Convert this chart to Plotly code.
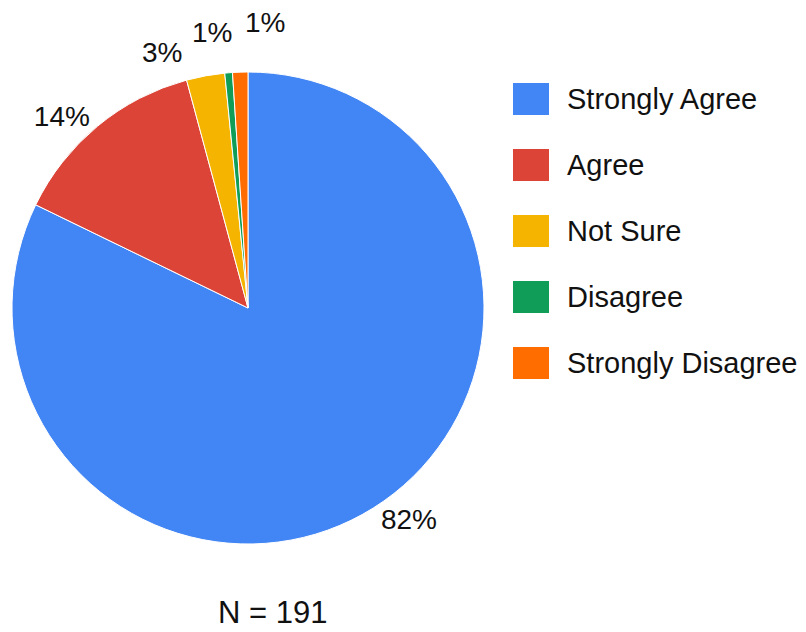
import math
import plotly.graph_objects as go

categories = ["Strongly Agree", "Agree", "Not Sure", "Disagree", "Strongly Disagree"]
counts = [157, 26, 5, 1, 2]
colors = ["#4285F4", "#DB4437", "#F4B400", "#0F9D58", "#FF6D00"]
note = "N = 191"

# the page body adds an 8px offset; the figure fills the rest of the 806x632 window
OFF = 8
W, H = 806 - OFF, 632 - OFF
FONT = "Liberation Sans, Arial, sans-serif"
TXT = "#111111"

# pie box in page pixels
PIE_L, PIE_R, PIE_T, PIE_B = 12, 484, 72, 544
CX, CY = (PIE_L + PIE_R) / 2, (PIE_T + PIE_B) / 2
RAD = (PIE_R - PIE_L) / 2


def px(x):
    return (x - OFF) / W


def py(y):
    return (H - (y - OFF)) / H


total = sum(counts)
shares = [c / total for c in counts]
small = [s < 0.05 for s in shares]

fig = go.Figure()
fig.add_trace(go.Pie(
    labels=categories,
    values=counts,
    marker=dict(colors=colors, line=dict(color="white", width=1)),
    sort=False,
    direction="clockwise",
    rotation=0,
    textposition=["none" if s else "outside" for s in small],
    texttemplate="%{percent:.0%}",
    textfont=dict(size=28, color=TXT, family=FONT),
    automargin=False,
    showlegend=False,
    hoverinfo="label+value+percent",
    domain=dict(x=[px(PIE_L), px(PIE_R)], y=[py(PIE_B), py(PIE_T)]),
))

annotations = []

# labels of the thin slices near the top: fanned out around the middle of their group
starts = [sum(shares[:i]) for i in range(len(shares))]
small_idx = [i for i, s in enumerate(small) if s]
g0 = starts[small_idx[0]]
g1 = starts[small_idx[-1]] + shares[small_idx[-1]]
g_mid = (g0 + g1) / 2 * 360
STEP = 11  # degrees between fanned labels
for k, i in enumerate(small_idx):
    ang = math.radians(g_mid + (k - (len(small_idx) - 1) / 2) * STEP)
    r = RAD + 34 + 8 * k
    lx = CX + r * math.sin(ang)
    ly = CY - r * math.cos(ang)
    annotations.append(dict(text=f"{round(shares[i] * 100)}%", xref="paper", yref="paper",
                            x=px(lx), y=py(ly), xanchor="center", yanchor="middle",
                            showarrow=False, font=dict(size=28, color=TXT, family=FONT)))

# legend drawn as squares + labels
shapes = []
for i, (lab, col) in enumerate(zip(categories, colors)):
    cy = 99 + 66 * i
    shapes.append(dict(type="rect", xref="paper", yref="paper",
                       x0=px(513), x1=px(549),
                       y0=py(cy + 16), y1=py(cy - 16),
                       fillcolor=col, line=dict(width=0)))
    annotations.append(dict(text=lab, xref="paper", yref="paper",
                            x=px(565), y=py(cy), xanchor="left", yanchor="middle",
                            showarrow=False, font=dict(size=29, color=TXT, family=FONT)))

annotations.append(dict(text=note, xref="paper", yref="paper",
                        x=px(272), y=py(612), xanchor="center", yanchor="middle",
                        showarrow=False, font=dict(size=31, color=TXT, family=FONT)))

fig.update_layout(
    width=W, height=H,
    margin=dict(l=0, r=0, t=0, b=0, autoexpand=False),
    paper_bgcolor="white",
    plot_bgcolor="white",
    shapes=shapes,
    annotations=annotations,
    showlegend=False,
)

fig.write_html("out.html")
